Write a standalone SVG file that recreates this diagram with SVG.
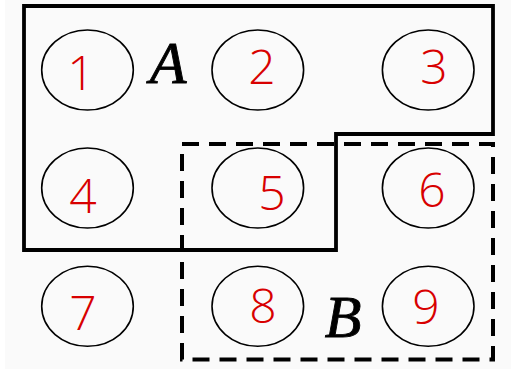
<svg xmlns="http://www.w3.org/2000/svg" width="511" height="369" viewBox="0 0 511 369">
<style>
.node ellipse{fill:none;stroke:#000;stroke-width:1.6}
.digit{font-family:"Open Sans","DejaVu Sans",sans-serif;font-weight:300;font-size:48px;fill:#d80000;text-anchor:middle}
.lbl{font-family:"Liberation Serif","Times New Roman",serif;font-style:italic;font-size:60px;fill:#000;stroke:#000;stroke-width:0.9;text-anchor:middle}
</style>
<rect x="5" y="0" width="506" height="369" fill="#fafafa"/>
<g id="connectors">
<path id="regionA" d="M24,6 H493 V134 H336 V250 H24 Z" fill="none" stroke="#000" stroke-width="3.8" stroke-linejoin="miter"/>
<path id="regionB" d="M182,144 H493 V359.5 H182 Z" fill="none" stroke="#000" stroke-width="4" stroke-dasharray="17 10"/>
</g>
<g id="n1" class="node"><ellipse cx="87.5" cy="70" rx="45.8" ry="40"/><text class="digit" x="81" y="90">1</text></g>
<g id="n2" class="node"><ellipse cx="257.8" cy="70" rx="45.8" ry="40"/><text class="digit" x="262" y="84">2</text></g>
<g id="n3" class="node"><ellipse cx="428.2" cy="70" rx="45.8" ry="40"/><text class="digit" x="434" y="84">3</text></g>
<g id="n4" class="node"><ellipse cx="87.5" cy="188" rx="45.8" ry="40"/><text class="digit" x="83" y="213">4</text></g>
<g id="n5" class="node"><ellipse cx="257.8" cy="188" rx="45.8" ry="40"/><text class="digit" x="272" y="210">5</text></g>
<g id="n6" class="node"><ellipse cx="428.2" cy="188" rx="45.8" ry="40"/><text class="digit" x="432" y="207">6</text></g>
<g id="n7" class="node"><ellipse cx="87.5" cy="306.3" rx="45.8" ry="40"/><text class="digit" x="83" y="330">7</text></g>
<g id="n8" class="node"><ellipse cx="257.8" cy="306.3" rx="45.8" ry="40"/><text class="digit" x="263" y="323">8</text></g>
<g id="n9" class="node"><ellipse cx="428.2" cy="306.3" rx="45.8" ry="40"/><text class="digit" x="426" y="324">9</text></g>
<g id="labelA"><text class="lbl" x="168" y="83">A</text></g>
<g id="labelB"><text class="lbl" x="343" y="337">B</text></g>
</svg>
